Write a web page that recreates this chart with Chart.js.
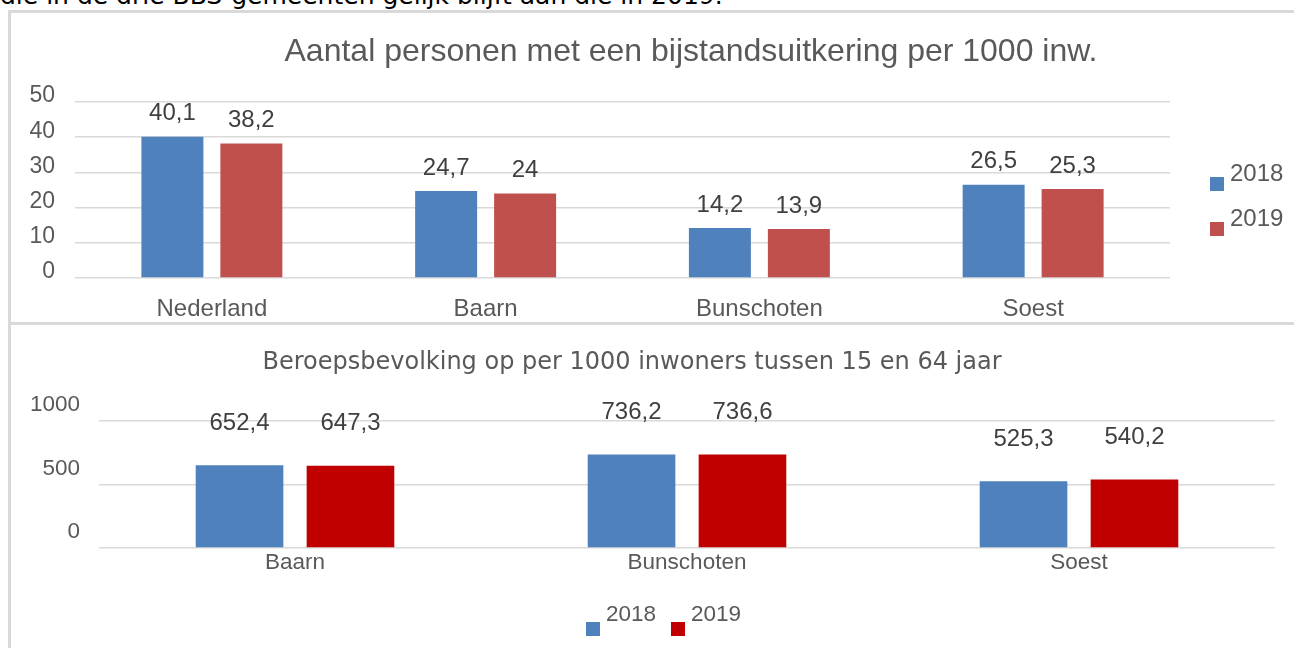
<!DOCTYPE html>
<html>
<head>
<meta charset="utf-8">
<script src="https://cdn.jsdelivr.net/npm/chart.js@4.4.0/dist/chart.umd.min.js"></script>
<style>
    body { margin: 0; background: #fff; width: 1294px; height: 648px; overflow: hidden; position: relative; }
    #intro { position: absolute; left: 0; top: -17px; font-family: "DejaVu Sans"; font-size: 25px; line-height: 25px; color: #000; white-space: nowrap; }
    #frame { position: absolute; left: 8px; top: 10px; width: 1300px; height: 700px; border-left: 3px solid #d9d9d9; border-top: 3px solid #d9d9d9; }
    #divider { position: absolute; left: 8px; top: 322px; width: 1300px; height: 3px; background: #d9d9d9; }
    canvas { position: absolute; }
    #bijstandChart { left: 11px; top: 13px; }
    #beroepsChart { left: 11px; top: 325px; }
</style>
</head>
<body>
<div id="intro">die in de drie BBS-gemeenten gelijk blijft aan die in 2019.</div>
<div id="frame"></div>
<div id="divider"></div>
<canvas id="bijstandChart" width="1283" height="309"></canvas>
<canvas id="beroepsChart" width="1283" height="323"></canvas>

<script>
// Data - bijstand per 1000 inwoners
const bijstandLabels = ['Nederland', 'Baarn', 'Bunschoten', 'Soest'];
const bijstand2018 = [40.1, 24.7, 14.2, 26.5];
const bijstand2019 = [38.2, 24, 13.9, 25.3];
const bijstandTicks = [0, 10, 20, 30, 40, 50];

// Data - beroepsbevolking per 1000 inwoners (15-64 jaar)
const beroepsLabels = ['Baarn', 'Bunschoten', 'Soest'];
const beroeps2018 = [652.4, 736.2, 525.3];
const beroeps2019 = [647.3, 736.6, 540.2];
const beroepsTicks = [0, 500, 1000];

const seriesNames = ['2018', '2019'];

const GREY = '#595959';
const GRID = '#d9d9d9';

// Dutch number format (comma as decimal separator)
function formatNL(v) {
    return String(v).replace('.', ',');
}

// Draws the value above each bar
const valueLabels = {
    id: 'valueLabels',
    afterDatasetsDraw(chart, args, opts) {
        const ctx = chart.ctx;
        ctx.save();
        ctx.font = opts.font;
        ctx.fillStyle = opts.color;
        ctx.textAlign = 'center';
        ctx.textBaseline = 'middle';
        chart.data.datasets.forEach((ds, i) => {
            chart.getDatasetMeta(i).data.forEach((bar, j) => {
                ctx.fillText(formatNL(ds.data[j]), bar.x, bar.y - opts.offset);
            });
        });
        ctx.restore();
    }
};

// Title + square legend, drawn like the Office chart does it
const officeDecor = {
    id: 'officeDecor',
    afterDraw(chart, args, opts) {
        const ctx = chart.ctx;
        ctx.save();
        ctx.font = opts.titleFont;
        ctx.fillStyle = GREY;
        ctx.textAlign = 'center';
        ctx.textBaseline = 'middle';
        ctx.fillText(opts.title, opts.titleX, opts.titleY);

        ctx.font = opts.legendFont;
        ctx.textAlign = 'left';
        chart.data.datasets.forEach((ds, i) => {
            const x = opts.legendX + i * opts.legendDx;
            const y = opts.legendY + i * opts.legendDy;
            ctx.fillStyle = ds.backgroundColor;
            ctx.fillRect(x, y, 14, 14);
            ctx.fillStyle = GREY;
            ctx.fillText(ds.label, x + 20, y + opts.textDy);
        });
        ctx.restore();
    }
};

function makeBarChart(id, cfg) {
    const ctx = document.getElementById(id).getContext('2d');
    return new Chart(ctx, {
        type: 'bar',
        data: {
            labels: cfg.labels,
            datasets: [
                { label: seriesNames[0], data: cfg.a, backgroundColor: '#4f81bd', categoryPercentage: cfg.catPct, barPercentage: cfg.barPct },
                { label: seriesNames[1], data: cfg.b, backgroundColor: cfg.redColor, categoryPercentage: cfg.catPct, barPercentage: cfg.barPct }
            ]
        },
        options: {
            responsive: false,
            animation: false,
            layout: { padding: cfg.padding },
            plugins: {
                legend: { display: false },
                title: { display: false },
                tooltip: { enabled: false },
                valueLabels: { font: '24px "Liberation Sans"', color: '#404040', offset: cfg.valueOffset },
                officeDecor: cfg.decor
            },
            scales: {
                x: {
                    grid: { display: false },
                    border: { display: false },
                    ticks: { color: GREY, font: { family: 'Liberation Sans', size: cfg.xFontSize }, padding: cfg.xPad },
                    afterFit: s => { s.height = cfg.xHeight; }
                },
                y: {
                    min: 0,
                    max: cfg.ticks[cfg.ticks.length - 1],
                    afterBuildTicks: s => { s.ticks = cfg.ticks.map(v => ({ value: v })); },
                    grid: { color: GRID, lineWidth: 1.5, drawTicks: false },
                    border: { display: false },
                    ticks: {
                        color: GREY,
                        font: { family: 'Liberation Sans', size: cfg.yFontSize },
                        padding: cfg.yPad,
                        labelOffset: cfg.yLabelOffset,
                        callback: v => String(v)
                    },
                    afterFit: s => { s.width = cfg.yWidth; }
                }
            }
        },
        plugins: [valueLabels, officeDecor]
    });
}

makeBarChart('bijstandChart', {
    labels: bijstandLabels, a: bijstand2018, b: bijstand2019, ticks: bijstandTicks,
    redColor: '#c0504d', catPct: 0.577, barPct: 0.785,
    padding: { top: 89, right: 124, bottom: 0, left: 0 },
    yWidth: 64, yPad: 20, yLabelOffset: -6, yFontSize: 23,
    xHeight: 44, xPad: 9, xFontSize: 24,
    valueOffset: 23,
    decor: {
        title: 'Aantal personen met een bijstandsuitkering per 1000 inw.',
        titleFont: '32px "Liberation Sans"', titleX: 680, titleY: 39,
        legendFont: '24px "Liberation Sans"', legendX: 1199, legendY: 164, legendDx: 0, legendDy: 45, textDy: -3
    }
});

makeBarChart('beroepsChart', {
    labels: beroepsLabels, a: beroeps2018, b: beroeps2019, ticks: beroepsTicks,
    redColor: '#c00000', catPct: 0.566, barPct: 0.79,
    padding: { top: 96, right: 19, bottom: 0, left: 0 },
    yWidth: 88, yPad: 19, yLabelOffset: -16, yFontSize: 22.5,
    xHeight: 100, xPad: -7, xFontSize: 22.5,
    valueOffset: 42,
    decor: {
        title: 'Beroepsbevolking op per 1000 inwoners tussen 15 en 64 jaar',
        titleFont: '24px "DejaVu Sans"', titleX: 621, titleY: 38,
        legendFont: '22.5px "Liberation Sans"', legendX: 575, legendY: 297, legendDx: 85, legendDy: 0, textDy: -7
    }
});
</script>
</body>
</html>
